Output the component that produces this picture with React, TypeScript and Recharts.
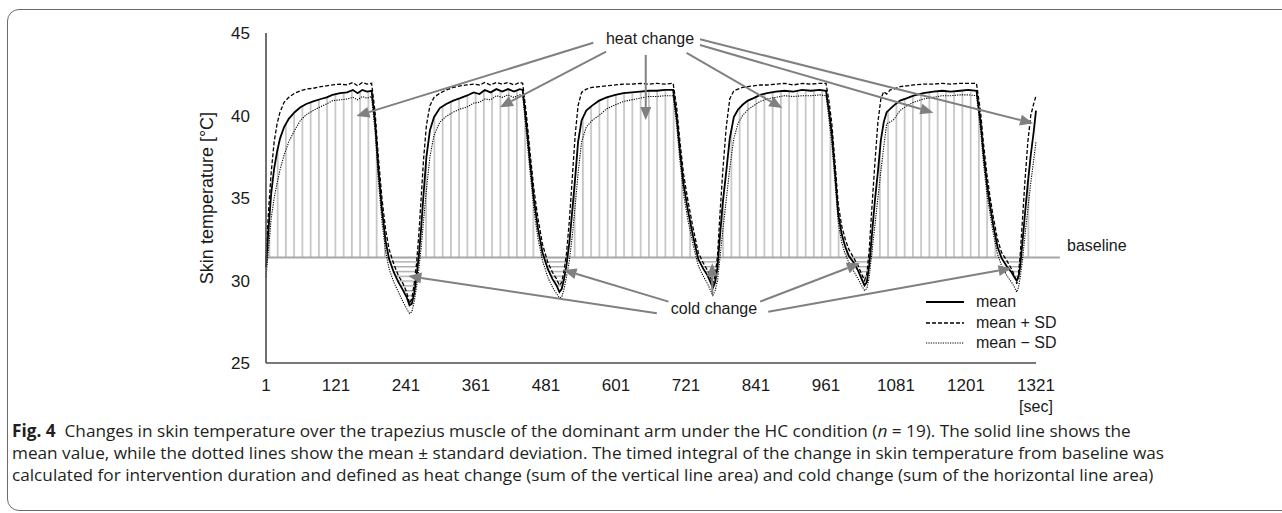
// skin temperature chart (Fig. 4) - HC condition

import { ComposedChart, Line, Area, XAxis, YAxis, ReferenceLine } from "recharts";

// time points (sec) where the curves were read
const secs = [
  1, 5, 10, 15, 20, 25, 32, 40, 50, 60, 70, 82, 95, 105, 115, 128, 140, 150, 158, 166, 174, 182,
  188, 194, 200, 206, 212, 220, 228, 236, 242, 247, 251, 255, 259, 263, 267, 271, 276, 282, 289, 299, 310, 322, 334, 345, 357, 367, 376, 386, 396, 406, 416, 426, 436, 441,
  447, 453, 460, 467, 475, 484, 492, 499, 504, 508, 512, 516, 521, 526, 531, 536, 542, 550, 560, 572, 585, 600, 614, 628, 642, 657, 671, 685, 699,
  705, 711, 717, 724, 733, 742, 750, 758, 763, 767, 771, 775, 779, 784, 790, 796, 803, 810, 818, 827, 837, 848, 860, 875, 890, 905, 920, 935, 950, 961,
  966, 971, 977, 982, 988, 994, 1000, 1008, 1016, 1022, 1027, 1031, 1035, 1040, 1045, 1050, 1055, 1060, 1065, 1071, 1077, 1088, 1100, 1111, 1128, 1145, 1160, 1175, 1191, 1205, 1219,
  1226, 1231, 1237, 1242, 1248, 1255, 1262, 1271, 1279, 1284, 1288, 1291, 1294, 1298, 1302, 1307, 1312, 1317, 1321,
];

const meanTemp = [
  30.8, 33.0, 35.3, 36.8, 37.8, 38.6, 39.3, 39.8, 40.2, 40.5, 40.7, 40.85, 41.0, 41.1, 41.25, 41.35, 41.4, 41.55, 41.35, 41.55, 41.45, 41.5,
  39.6, 36.6, 34.2, 32.4, 31.3, 30.5, 29.9, 29.4, 29.0, 28.5, 28.6, 29.2, 30.2, 31.5, 33.2, 35.2, 37.5, 39.1, 39.9, 40.45, 40.7, 40.9, 41.05, 41.2, 41.4, 41.3, 41.55, 41.4, 41.6, 41.45, 41.6, 41.45, 41.6, 41.55,
  39.6, 37.4, 35.0, 33.2, 31.7, 30.7, 30.1, 29.7, 29.3, 29.5, 30.1, 30.9, 32.3, 34.2, 36.2, 38.4, 39.7, 40.3, 40.6, 40.9, 41.1, 41.25, 41.35, 41.4, 41.45, 41.5, 41.5, 41.55, 41.55,
  39.9, 37.7, 35.8, 34.3, 32.7, 31.3, 30.75, 30.3, 29.9, 29.55, 29.9, 30.8, 32.6, 34.7, 36.6, 38.6, 39.9, 40.35, 40.65, 40.9, 41.05, 41.25, 41.35, 41.45, 41.5, 41.45, 41.55, 41.5, 41.55, 41.5,
  40.3, 38.9, 36.3, 34.0, 32.8, 32.05, 31.5, 31.1, 30.6, 30.1, 29.7, 29.9, 30.9, 32.9, 34.9, 36.6, 38.5, 39.6, 40.2, 40.4, 40.6, 40.9, 41.05, 41.2, 41.35, 41.45, 41.5, 41.45, 41.5, 41.55, 41.5,
  39.6, 37.7, 35.8, 34.6, 33.3, 32.05, 31.35, 30.85, 30.5, 30.2, 30.0, 30.2, 30.9, 32.4, 34.0, 35.9, 37.6, 39.0, 40.3,
];

const plusSD = [
  31.3, 34.0, 36.6, 38.4, 39.5, 40.2, 40.8, 41.1, 41.35, 41.5, 41.6, 41.65, 41.75, 41.8, 41.85, 41.9, 41.85, 42.0, 41.8, 42.0, 41.9, 41.95,
  40.2, 37.3, 34.9, 33.1, 31.9, 31.0, 30.3, 29.8, 29.3, 28.6, 28.9, 29.8, 31.0, 32.8, 35.0, 37.3, 39.4, 40.6, 41.1, 41.35, 41.55, 41.7, 41.8, 41.85, 41.9, 41.85, 42.0, 41.85, 42.0, 41.9, 42.0, 41.85, 42.0, 41.95,
  40.2, 38.0, 35.6, 33.8, 32.2, 31.1, 30.5, 30.1, 29.7, 29.9, 30.6, 31.6, 33.6, 36.2, 38.8, 40.6, 41.4, 41.6, 41.7, 41.75, 41.8, 41.85, 41.9, 41.9, 41.95, 41.9, 41.95, 41.9, 41.95,
  40.5, 38.3, 36.4, 34.9, 33.2, 31.7, 31.1, 30.6, 30.2, 29.8, 30.3, 31.5, 33.9, 36.6, 39.3, 41.0, 41.5, 41.6, 41.7, 41.75, 41.8, 41.85, 41.85, 41.9, 41.95, 41.85, 41.95, 41.9, 41.95, 41.95,
  40.9, 39.5, 36.9, 34.6, 33.3, 32.5, 31.9, 31.4, 30.9, 30.4, 30.0, 30.4, 31.8, 34.6, 37.2, 39.6, 41.0, 41.45, 41.3, 41.55, 41.6, 41.75, 41.8, 41.85, 41.9, 41.9, 41.95, 41.9, 41.95, 41.95, 41.95,
  40.2, 38.3, 36.4, 35.1, 33.8, 32.5, 31.7, 31.2, 30.7, 30.3, 29.8, 30.4, 31.6, 33.8, 36.0, 38.4, 40.0, 40.7, 41.2,
];

const minusSD = [
  30.2, 31.8, 33.8, 35.0, 35.9, 36.7, 37.6, 38.4, 39.1, 39.7, 40.05, 40.3, 40.55, 40.7, 40.9, 40.95, 41.0, 41.1, 40.95, 41.15, 41.05, 41.15,
  39.0, 35.9, 33.5, 31.8, 30.7, 29.9, 29.3, 28.7, 28.3, 28.0, 28.1, 28.7, 29.6, 30.7, 32.0, 33.6, 35.5, 37.5, 38.8, 39.6, 39.95, 40.2, 40.4, 40.5, 40.75, 40.8, 41.0, 40.95, 41.2, 41.1, 41.25, 41.1, 41.25, 41.2,
  39.1, 36.8, 34.4, 32.6, 31.2, 30.2, 29.6, 29.2, 28.95, 29.0, 29.5, 30.2, 31.2, 32.7, 34.5, 36.5, 38.4, 39.3, 39.7, 40.0, 40.4, 40.65, 40.85, 40.95, 41.05, 41.15, 41.15, 41.2, 41.2,
  39.4, 37.1, 35.2, 33.7, 32.2, 30.9, 30.3, 29.8, 29.4, 29.1, 29.4, 30.0, 31.3, 33.0, 34.9, 36.8, 38.6, 39.5, 40.0, 40.35, 40.6, 40.85, 41.0, 41.1, 41.2, 41.15, 41.2, 41.2, 41.25, 41.2,
  39.8, 38.3, 35.7, 33.5, 32.3, 31.6, 31.1, 30.6, 30.1, 29.7, 29.4, 29.5, 30.2, 31.8, 33.4, 35.0, 36.6, 38.1, 39.5, 39.6, 39.75, 40.3, 40.6, 40.8, 41.0, 41.1, 41.2, 41.2, 41.25, 41.25, 41.2,
  39.1, 37.1, 35.2, 34.1, 32.8, 31.6, 30.9, 30.3, 29.9, 29.6, 29.3, 29.6, 30.2, 31.3, 32.7, 34.3, 35.9, 37.3, 38.4,
];

const BASELINE = 31.4;
const BASELINE_END = 1362;

const xTicks = [1, 121, 241, 361, 481, 601, 721, 841, 961, 1081, 1201, 1321];
const yTicks = [25, 30, 35, 40, 45];

// annotation arrows, [sec, degC] from label -> tip
const heatArrows = [
  [[562, 44.41], [156, 39.97]],
  [[584, 43.87], [402, 40.5]],
  [[652, 43.67], [652, 39.73]],
  [[722, 43.8], [886, 40.45]],
  [[745, 44.27], [1145, 40.17]],
  [[745, 44.62], [1316, 39.53]],
];

const coldArrows = [
  [[671, 28.01], [245, 30.27]],
  [[691, 28.72], [511, 30.64]],
  [[766, 29.24], [766, 31.04]],
  [[848, 28.72], [1019, 31.04]],
  [[862, 28.11], [1279, 30.74]],
];

const legendRows = [
  { label: "mean", dash: undefined, width: 1.8 },
  { label: "mean + SD", dash: "4 2", width: 1.3 },
  { label: "mean \u2212 SD", dash: "1.2 1.2", width: 1.1 },
];

const data = secs.map((s, i) => ({
  sec: s,
  mean: meanTemp[i],
  plus: plusSD[i],
  minus: minusSD[i],
  heat: [BASELINE, Math.max(meanTemp[i], BASELINE)],
  cold: [Math.min(meanTemp[i], BASELINE), BASELINE],
}));


// arrow with a filled head, drawn from ReferenceLine end points
function Arrow(p: any) {
  const { x1, y1, x2, y2 } = p;
  const dx = x2 - x1;
  const dy = y2 - y1;
  const len = Math.hypot(dx, dy) || 1;
  const ux = dx / len;
  const uy = dy / len;
  const hl = 13;
  const hw = 5.5;
  const bx = x2 - ux * hl;
  const by = y2 - uy * hl;
  return (
    <g>
      <line x1={x1} y1={y1} x2={bx} y2={by} stroke="#808080" strokeWidth={2} />
      <polygon points={`${x2},${y2} ${bx - uy * hw},${by + ux * hw} ${bx + uy * hw},${by - ux * hw}`} fill="#808080" />
    </g>
  );
}


export default function App() {
  const font = '"Liberation Sans", Arial, sans-serif';

  return (
    <div style={{ position: "relative", width: 1282, height: 513, background: "#fff", fontFamily: font, overflow: "hidden", color: "#1a1a1a" }}>
      <style>{"body{margin:0}"}</style>

      {/* figure frame */}
      <div style={{ position: "absolute", left: 7, top: 9, width: 1300, height: 500, border: "1px solid #6b6b6b", borderRadius: 12 }} />

      <div style={{ position: "absolute", left: 0, top: 0 }}>
        <ComposedChart width={1282} height={400} data={data} margin={{ top: 33, right: 246, bottom: 7, left: 200 }}>
          <defs>
            <pattern id="vhatch" patternUnits="userSpaceOnUse" x={268.5} y={0} width={8.25} height={10}>
              <rect x={0} y={0} width={1.7} height={10} fill="#c4c4c4" />
            </pattern>
            <pattern id="hhatch" patternUnits="userSpaceOnUse" x={0} y={261.2} width={10} height={4.8}>
              <rect x={0} y={0} width={10} height={1.4} fill="#aaaaaa" />
            </pattern>
          </defs>

          <XAxis dataKey="sec" type="number" domain={[1, 1321]} ticks={xTicks} tickLine={false}
            axisLine={{ stroke: "#4d4d4d", strokeWidth: 1.6 }} tickMargin={10}
            tick={{ fill: "#1a1a1a", fontSize: 17 }} height={30} />

          <YAxis type="number" domain={[25, 45]} ticks={yTicks} tickLine={false} width={66}
            axisLine={{ stroke: "#4d4d4d", strokeWidth: 1.6 }} tickMargin={10}
            tick={{ fill: "#1a1a1a", fontSize: 17 }}
            label={{ value: "Skin temperature [\u00b0C]", angle: -90, position: "insideLeft", offset: 7,
              style: { textAnchor: "middle", fontSize: 18, fill: "#1a1a1a" } }} />

          {/* heat change / cold change hatching */}
          <Area dataKey="heat" type="linear" stroke="none" fill="url(#vhatch)" fillOpacity={1}
            isAnimationActive={false} legendType="none" activeDot={false} />
          <Area dataKey="cold" type="linear" stroke="none" fill="url(#hhatch)" fillOpacity={1}
            isAnimationActive={false} legendType="none" activeDot={false} />

          <ReferenceLine segment={[{ x: 1, y: BASELINE }, { x: BASELINE_END, y: BASELINE }]}
            stroke="#a6a6a6" strokeWidth={2} ifOverflow="visible" />

          <Line dataKey="minus" type="linear" stroke="#000" strokeWidth={1.1} strokeDasharray="1.2 1.2"
            dot={false} activeDot={false} isAnimationActive={false} />
          <Line dataKey="plus" type="linear" stroke="#000" strokeWidth={1.3} strokeDasharray="4 2"
            dot={false} activeDot={false} isAnimationActive={false} />
          <Line dataKey="mean" type="linear" stroke="#000" strokeWidth={1.8}
            dot={false} activeDot={false} isAnimationActive={false} />

          {heatArrows.map((a, i) => (
            <ReferenceLine key={"h" + i} segment={[{ x: a[0][0], y: a[0][1] }, { x: a[1][0], y: a[1][1] }]}
              shape={Arrow} ifOverflow="visible" />
          ))}
          {coldArrows.map((a, i) => (
            <ReferenceLine key={"c" + i} segment={[{ x: a[0][0], y: a[0][1] }, { x: a[1][0], y: a[1][1] }]}
              shape={Arrow} ifOverflow="visible" />
          ))}
        </ComposedChart>
      </div>

      {/* annotation text */}
      <div style={{ position: "absolute", left: 650, top: 39, transform: "translate(-50%, -50%)", fontSize: 16, whiteSpace: "nowrap" }}>heat change</div>
      <div style={{ position: "absolute", left: 714, top: 309, transform: "translate(-50%, -50%)", fontSize: 16, whiteSpace: "nowrap" }}>cold change</div>
      <div style={{ position: "absolute", left: 1067, top: 246, transform: "translate(0, -50%)", fontSize: 16, whiteSpace: "nowrap" }}>baseline</div>
      <div style={{ position: "absolute", left: 1036, top: 407, transform: "translate(-50%, -50%)", fontSize: 16, whiteSpace: "nowrap" }}>[sec]</div>

      {/* legend */}
      <div style={{ position: "absolute", left: 926, top: 292 }}>
        {legendRows.map((r) => (
          <div key={r.label} style={{ display: "flex", alignItems: "center", height: 20.5, fontSize: 16 }}>
            <svg width={38} height={6} style={{ marginRight: 12 }}>
              <line x1={0} y1={3} x2={38} y2={3} stroke="#000" strokeWidth={r.width} strokeDasharray={r.dash} />
            </svg>
            <span style={{ whiteSpace: "nowrap" }}>{r.label}</span>
          </div>
        ))}
      </div>

      {/* caption */}
      <div style={{ position: "absolute", left: 12, top: 420, fontFamily: "'Open Sans', Lato, sans-serif", fontSize: 17.2, lineHeight: "22px", color: "#231f20", whiteSpace: "nowrap" }}>
        <div><b>Fig. 4</b>&nbsp; Changes in skin temperature over the trapezius muscle of the dominant arm under the HC condition (<i>n</i> = 19). The solid line shows the</div>
        <div>mean value, while the dotted lines show the mean ± standard deviation. The timed integral of the change in skin temperature from baseline was</div>
        <div>calculated for intervention duration and defined as heat change (sum of the vertical line area) and cold change (sum of the horizontal line area)</div>
      </div>
    </div>
  );
}
